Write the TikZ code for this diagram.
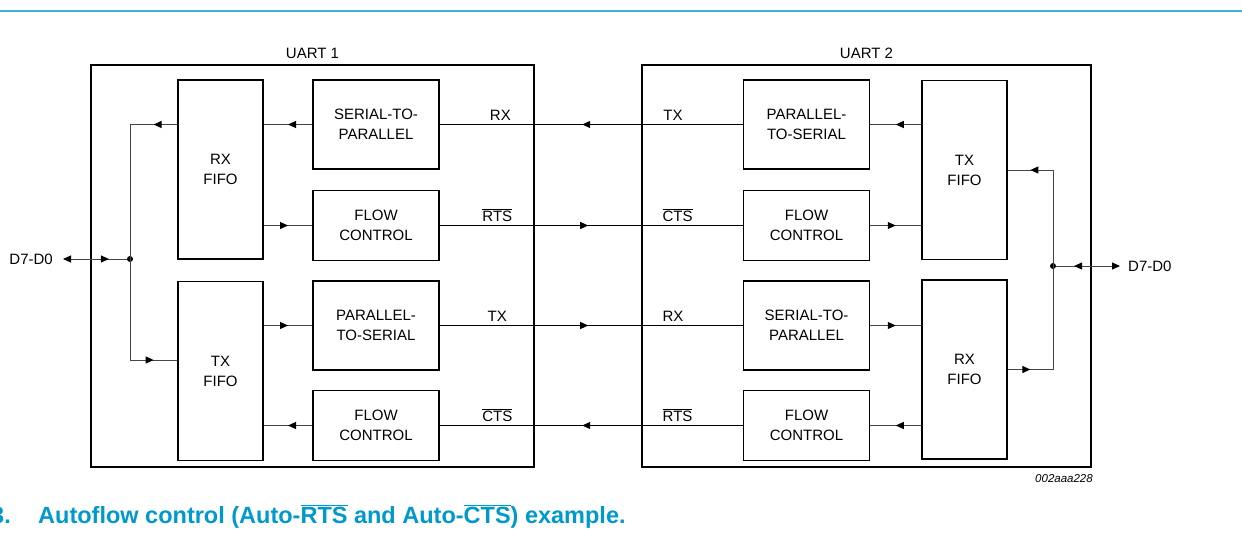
\documentclass[tikz,border=0pt]{standalone}
\usepackage{fontspec}
\setmainfont{Liberation Sans}
\usepackage{tikz}
\usetikzlibrary{positioning,arrows.meta,decorations.markings}

\definecolor{capblue}{RGB}{0,153,204}
\definecolor{rulecyan}{RGB}{60,178,212}
\definecolor{wiregray}{RGB}{70,70,70}

\tikzset{
  blk/.style={draw, line width=1.5pt, align=center, inner sep=0pt, font=\fontsize{15}{20}\selectfont},
  fifo/.style={blk, minimum width=85pt, minimum height=179pt},
  conv/.style={blk, minimum width=126pt, minimum height=89pt},
  flow/.style={blk, minimum width=126pt, minimum height=70pt},
  uart/.style={draw, line width=1.5pt, minimum height=402pt},
  wire/.style={draw=wiregray, line width=1pt},
  midarrow/.style={postaction={decorate}, decoration={markings, mark=at position #1 with {\arrow[black]{>}}}},
  midarrow/.default=0.5,
  sig/.style={font=\fontsize{15}{18}\selectfont, anchor=base, inner sep=0pt, yshift=4pt},
  dot/.style={circle, fill=black, inner sep=0pt, minimum size=6pt},
}

\begin{document}
\begin{tikzpicture}[x=1pt, y=-1pt, >={Triangle[length=8pt,width=7pt,color=black]}]
  \useasboundingbox (0,0) rectangle (1242,547);
  \draw[rulecyan, line width=2.2pt] (0,11) -- (1242,11);

  % uart 1
  \node[uart, minimum width=443pt] (uart1) at (312.5,266) {};
  \node[above=2pt of uart1, font=\fontsize{15}{18}\selectfont] (uart1lbl) {UART 1};
  \node[fifo] (rxfifo1) at (220.5,169.5) {RX\\FIFO};
  \node[fifo, below=21pt of rxfifo1] (txfifo1) {TX\\FIFO};
  \node[conv] (s2p1) at (376,124.5) {SERIAL-TO-\\PARALLEL};
  \node[flow, below=20pt of s2p1] (fc1a) {FLOW\\CONTROL};
  \node[conv, below=19pt of fc1a] (p2s1) {PARALLEL-\\TO-SERIAL};
  \node[flow, below=19pt of p2s1] (fc1b) {FLOW\\CONTROL};

  % uart 2
  \node[uart, minimum width=449pt] (uart2) at (866.5,266) {};
  \node[above=2pt of uart2, font=\fontsize{15}{18}\selectfont] (uart2lbl) {UART 2};
  \node[conv, right=303pt of s2p1] (p2s2) {PARALLEL-\\TO-SERIAL};
  \node[flow, right=303pt of fc1a] (fc2a) {FLOW\\CONTROL};
  \node[conv, right=303pt of p2s1] (s2p2) {SERIAL-TO-\\PARALLEL};
  \node[flow, right=303pt of fc1b] (fc2b) {FLOW\\CONTROL};
  \node[fifo] (txfifo2) at (964.5,170) {TX\\FIFO};
  \node[fifo, below=19pt of txfifo2] (rxfifo2) {RX\\FIFO};

  % data bus
  \node[dot] (j1) at (130,259) {};
  \node[dot] (j2) at (1053,266) {};
  \coordinate (tin1) at (130,360);
  \node[anchor=east, inner xsep=10pt, inner ysep=0pt, font=\fontsize{15}{18}\selectfont] (d1) at (63,259) {D7-D0};
  \node[anchor=west, inner xsep=8pt, inner ysep=0pt, font=\fontsize{15}{18}\selectfont] (d2) at (1120,266) {D7-D0};

  \draw[wire, midarrow] (s2p1.west) -- (s2p1.west -| rxfifo1.east);
  \draw[wire, midarrow] (fc1a.west -| rxfifo1.east) -- (fc1a.west);
  \draw[wire, midarrow] (p2s1.west -| txfifo1.east) -- (p2s1.west);
  \draw[wire, midarrow] (fc1b.west) -- (fc1b.west -| txfifo1.east);
  \draw[wire, midarrow] (s2p1.west -| rxfifo1.west) -- (s2p1.west -| j1);
  \draw[wire] (s2p1.west -| j1) -- (tin1);
  \draw[wire, midarrow] (tin1) -- (tin1 -| txfifo1.west);
  \draw[wire, <-, midarrow=0.72] (d1.east) -- (j1);

  \draw[wire, midarrow] (p2s2.east -| txfifo2.west) -- (p2s2.east);
  \draw[wire, midarrow] (fc2a.east) -- (fc2a.east -| txfifo2.west);
  \draw[wire, midarrow] (s2p2.east) -- (s2p2.east -| rxfifo2.west);
  \draw[wire, midarrow] (fc2b.east -| rxfifo2.west) -- (fc2b.east);
  \draw[wire, midarrow] (txfifo2.east -| j2) -- (txfifo2.east);
  \draw[wire] (txfifo2.east -| j2) -- (rxfifo2.east -| j2);
  \draw[wire, midarrow] (rxfifo2.east) -- (rxfifo2.east -| j2);
  \draw[wire, <-, midarrow=0.72] (d2.west) -- (j2);

  % links between the uarts
  \draw[wire, black, midarrow=0.53] (p2s2.west) -- (s2p1.east)
    node[sig, pos=0.8] (rxa) {RX} node[sig, pos=0.23] (txa) {TX};
  \draw[wire, black, midarrow=0.49] (fc1a.east) -- (fc2a.west)
    node[sig, pos=0.19] (rtsa) {$\overline{\mbox{RTS}}$} node[sig, pos=0.785] (ctsa) {$\overline{\mbox{CTS}}$};
  \draw[wire, black, midarrow=0.49] (p2s1.east) -- (s2p2.west)
    node[sig, pos=0.19] (txb) {TX} node[sig, pos=0.77] (rxb) {RX};
  \draw[wire, black, midarrow=0.53] (fc2b.west) -- (fc1b.east)
    node[sig, pos=0.81] (ctsb) {$\overline{\mbox{CTS}}$} node[sig, pos=0.215] (rtsb) {$\overline{\mbox{RTS}}$};

  \node[font=\fontsize{11.5}{14}\itshape\selectfont] (figid) at (1064,479) {002aaa228};

  % caption
  \node[anchor=base west, inner sep=0pt, text=capblue, font=\bfseries\fontsize{23.5}{26}\selectfont] (capnum) at (-9,523) {3.};
  \node[anchor=base west, inner sep=0pt, text=capblue, font=\bfseries\fontsize{23.5}{26}\selectfont] (captxt) at (38,523)
    {Autoflow control (Auto-$\overline{\mbox{RTS}}$ and Auto-$\overline{\mbox{CTS}}$) example.};
\end{tikzpicture}
\end{document}
